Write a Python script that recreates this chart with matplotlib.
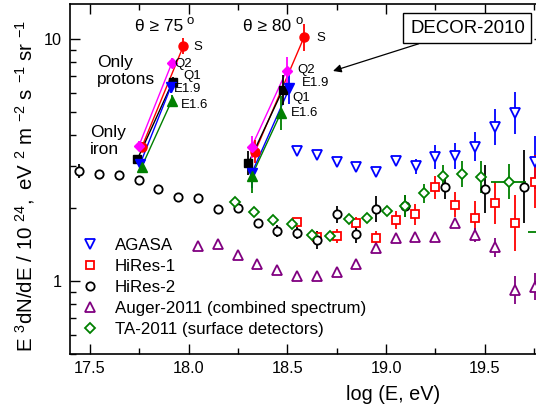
import numpy as np
import matplotlib
matplotlib.use("Agg")
import matplotlib.pyplot as plt
from matplotlib.lines import Line2D
from matplotlib.ticker import FixedLocator, NullFormatter, FixedFormatter, MultipleLocator, FormatStrFormatter

plt.rcParams['font.family'] = ['Liberation Sans', 'DejaVu Sans']
plt.rcParams['mathtext.fontset'] = 'custom'
plt.rcParams['mathtext.rm'] = 'Liberation Sans'
plt.rcParams['mathtext.it'] = 'Liberation Sans:italic'
plt.rcParams['mathtext.bf'] = 'Liberation Sans:bold'

# ---------------- data ----------------
agasa_x = [18.55, 18.648, 18.75, 18.849, 18.949, 19.049, 19.149, 19.249, 19.348, 19.449, 19.553, 19.653, 19.754]
agasa_y = [3.455, 3.317, 3.112, 2.967, 2.829, 3.142, 2.978, 3.263, 3.285, 3.589, 4.329, 4.945, 3.094]
agasa_err = [0, 0, 0, 0, 0, 0.02, 0.03, 0.05, 0.055, 0.06, 0.075, 0.087, 0.11]

hr1_x = [18.547, 18.648, 18.750, 18.849, 18.949, 19.049, 19.147, 19.247, 19.349, 19.450, 19.552, 19.653, 19.754]
hr1_y = [1.758, 1.520, 1.535, 1.734, 1.501, 1.787, 1.883, 2.434, 2.067, 1.816, 2.095, 1.736, 2.570]
hr1_err = [0.016, 0.016, 0.03, 0.026, 0.03, 0.038, 0.045, 0.046, 0.052, 0.07, 0.086, 0.117, 0.11]

hr2_x = [17.446, 17.547, 17.647, 17.748, 17.846, 17.946, 18.047, 18.147, 18.248, 18.350,
         18.449, 18.549, 18.650, 18.750, 18.849, 18.949, 19.098, 19.300, 19.501, 19.700]
hr2_y = [2.848, 2.768, 2.734, 2.622, 2.393, 2.230, 2.197, 1.984, 2.009, 1.736,
         1.609, 1.579, 1.481, 1.883, 1.560, 1.984, 2.036, 2.453, 2.395, 2.453]
hr2_err = [0.027, 0, 0, 0, 0, 0, 0, 0, 0, 0,
           0.025, 0.025, 0.037, 0.037, 0.037, 0.054, 0.045, 0.05, 0.1, 0.15]

aug_x = [18.049, 18.150, 18.248, 18.344, 18.447, 18.549, 18.650, 18.750, 18.849, 18.949,
         19.049, 19.148, 19.246, 19.349, 19.450, 19.553, 19.653, 19.754]
aug_y = [1.399, 1.418, 1.277, 1.172, 1.110, 1.044, 1.049, 1.092, 1.175, 1.365,
         1.501, 1.520, 1.524, 1.742, 1.549, 1.378, 0.918, 0.947]
aug_err = [0, 0, 0, 0, 0, 0, 0, 0, 0, 0, 0, 0, 0, 0, 0.03, 0.04, 0.056, 0.055]

ta_x = [18.235, 18.332, 18.429, 18.523, 18.623, 18.716, 18.811, 18.905, 19.003, 19.096,
        19.192, 19.287, 19.385, 19.479, 19.621, 19.82]
ta_y = [2.127, 1.933, 1.787, 1.720, 1.549, 1.539, 1.804, 1.816, 1.952, 2.041,
        2.303, 2.716, 2.768, 2.698, 2.573, 1.598]
ta_err = [0, 0, 0, 0, 0, 0, 0, 0, 0.02, 0.045, 0.04, 0.045, 0.053, 0.066, 0.072, 0]
ta_xerr = [0, 0, 0, 0, 0, 0, 0, 0, 0, 0, 0, 0, 0, 0, 0.09, 0.1]

decor_names = ['S', 'Q2', 'Q1', 'E1.9', 'E1.6']
# theta >= 75 deg: (only iron) -> (only protons)
d75_iron_x = [17.762, 17.748, 17.740, 17.753, 17.762]
d75_iron_y = [3.568, 3.623, 3.184, 3.035, 2.967]
d75_iron_err = [0.02, 0.02, 0.015, 0.02, 0.02]
d75_prot_x = [17.973, 17.914, 17.919, 17.910, 17.914]
d75_prot_y = [9.357, 7.937, 6.663, 6.354, 5.559]
d75_prot_err = [0.034, 0.02, 0.02, 0.025, 0.025]
# theta >= 80 deg
d80_iron_x = [18.336, 18.319, 18.302, 18.319, 18.319]
d80_iron_y = [3.422, 3.589, 3.064, 2.786, 2.716]
d80_iron_err = [0.048, 0.045, 0.05, 0.06, 0.07]
d80_prot_x = [18.584, 18.496, 18.476, 18.510, 18.466]
d80_prot_y = [10.16, 7.396, 6.155, 6.256, 4.932]
d80_prot_err = [0.055, 0.055, 0.062, 0.066, 0.07]

d75_label_x = [18.025, 17.927, 17.974, 17.927, 17.961]
d75_label_y = [9.29, 7.86, 7.05, 6.22, 5.34]
d80_label_x = [18.645, 18.552, 18.527, 18.575, 18.518]
d80_label_y = [10.13, 7.44, 5.72, 6.56, 4.93]

x_ticks = [17.5, 18.0, 18.5, 19.0, 19.5]
legend_labels = ['AGASA', 'HiRes-1', 'HiRes-2', 'Auger-2011 (combined spectrum)', 'TA-2011 (surface detectors)']

# ---------------- styles ----------------
decor_colors = ['#ff0000', '#ff00ff', '#000000', '#0000ff', '#008000']
decor_markers = ['o', 'D', 's', 'v', '^']
decor_ms = [6.5, 5.5, 5.5, 6.5, 6.5]

def yerr(y, d):
    y = np.asarray(y, float)
    d = np.asarray(d, float)
    return [y - y / 10 ** d, y * 10 ** d - y]

fig = plt.figure(figsize=(5.36, 4.11), dpi=100)
ax = fig.add_axes([0.1311, 0.1391, 0.8839, 0.8521])
ax.set_yscale('log')
ax.set_xlim(17.4, 19.8)
ax.set_ylim(0.5, 14)

lw = 1.3
common = dict(linestyle='none', capsize=0, elinewidth=lw, markeredgewidth=1.3, markerfacecolor='white')
ax.errorbar(agasa_x, agasa_y, yerr=yerr(agasa_y, agasa_err), marker='v', ms=7, color='#0000ff', **common)
ax.errorbar(hr1_x, hr1_y, yerr=yerr(hr1_y, hr1_err), marker='s', ms=5.5, color='#ff0000', **common)
ax.errorbar(hr2_x, hr2_y, yerr=yerr(hr2_y, hr2_err), marker='o', ms=6, color='#000000', **common)
ax.errorbar(aug_x, aug_y, yerr=yerr(aug_y, aug_err), marker='^', ms=7, color='#800080', **common)
ax.errorbar(ta_x, ta_y, yerr=yerr(ta_y, ta_err), xerr=ta_xerr, marker='D', ms=5.5, color='#008000', **common)

for grp in [(d75_iron_x, d75_iron_y, d75_iron_err, d75_prot_x, d75_prot_y, d75_prot_err),
            (d80_iron_x, d80_iron_y, d80_iron_err, d80_prot_x, d80_prot_y, d80_prot_err)]:
    ix, iy, ie, px, py, pe = grp
    for i in range(len(decor_names)):
        c = decor_colors[i]
        ax.plot([ix[i], px[i]], [iy[i], py[i]], color=c, lw=1.0, zorder=3)
    for i in range(len(decor_names)):
        c = decor_colors[i]
        xs = [ix[i], px[i]]
        ys = [iy[i], py[i]]
        ax.errorbar(xs, ys, yerr=yerr(ys, [ie[i], pe[i]]), linestyle='none', marker=decor_markers[i],
                    ms=decor_ms[i], color=c, mfc=c, mec=c, capsize=0, elinewidth=lw, zorder=4)

for i, n in enumerate(decor_names):
    ax.text(d75_label_x[i], d75_label_y[i], n, fontsize=9.5, ha='left', va='center', zorder=5)
    ax.text(d80_label_x[i], d80_label_y[i], n, fontsize=9.5, ha='left', va='center', zorder=5)

ax.text(17.728, 11.24, 'θ ≥ 75', fontsize=12.5, ha='left', va='center')
ax.text(17.991, 11.9, 'o', fontsize=9.5, ha='left', va='center')
ax.text(18.277, 11.24, 'θ ≥ 80', fontsize=12.5, ha='left', va='center')
ax.text(18.539, 11.9, 'o', fontsize=9.5, ha='left', va='center')

ax.text(17.537, 7.37, 'Only\nprotons', fontsize=12.5, ha='left', va='center', linespacing=1.1)
ax.text(17.50, 3.79, 'Only\niron', fontsize=12.5, ha='left', va='center', linespacing=1.1)

ax.annotate('DECOR-2010', xy=(18.731, 7.375), xytext=(19.412, 11.07), fontsize=13.4,
            ha='center', va='center',
            bbox=dict(boxstyle='square,pad=0.35', fc='white', ec='black', lw=1.0),
            arrowprops=dict(arrowstyle='-|>', color='black', lw=0.9, mutation_scale=12, shrinkA=0, shrinkB=0))

handles = [Line2D([], [], linestyle='none', marker='v', ms=7, mec='#0000ff', mfc='white', mew=1.3),
           Line2D([], [], linestyle='none', marker='s', ms=5.5, mec='#ff0000', mfc='white', mew=1.3),
           Line2D([], [], linestyle='none', marker='o', ms=6, mec='#000000', mfc='white', mew=1.3),
           Line2D([], [], linestyle='none', marker='^', ms=7, mec='#800080', mfc='white', mew=1.3),
           Line2D([], [], linestyle='none', marker='D', ms=5.5, mec='#008000', mfc='white', mew=1.3)]
ax.legend(handles, legend_labels, loc='upper left', bbox_to_anchor=(0.0238, 0.331), frameon=False,
          fontsize=12.2, handlelength=1.0, handletextpad=0.98, labelspacing=0.36, borderpad=0, borderaxespad=0)

# axes styling
ax.xaxis.set_major_locator(FixedLocator(x_ticks))
ax.xaxis.set_minor_locator(MultipleLocator(0.25))
ax.xaxis.set_major_formatter(FormatStrFormatter('%.1f'))
ax.yaxis.set_major_locator(FixedLocator([1, 10]))
ax.yaxis.set_major_formatter(FixedFormatter(['1', '10']))
ax.yaxis.set_minor_locator(FixedLocator([0.5, 0.6, 0.7, 0.8, 0.9, 2, 3, 4, 5, 6, 7, 8, 9]))
ax.yaxis.set_minor_formatter(NullFormatter())
ax.tick_params(which='both', direction='in', top=True, right=True, width=1.0, labelsize=11.7)
ax.tick_params(which='major', length=7)
ax.tick_params(which='minor', length=4)
ax.tick_params(axis='x', which='major', pad=5)
ax.tick_params(axis='y', which='major', pad=6)
for s in ax.spines.values():
    s.set_linewidth(1.2)

ax.set_xlabel('log (E, eV)', fontsize=14.3)
ax.xaxis.set_label_coords(0.681, -0.089)
ax.set_ylabel(r'$\mathrm{E}\ {}^{3}\mathrm{dN/dE\ /\ 10}\ {}^{24}\mathrm{,\ eV}\ {}^{2}\ \mathrm{m}\ {}^{-2}\ \mathrm{s}\ {}^{-1}\ \mathrm{sr}\ {}^{-1}$',
              fontsize=14.8)
ax.yaxis.set_label_coords(-0.070, 0.48)

fig.savefig('out.png', dpi=100)
